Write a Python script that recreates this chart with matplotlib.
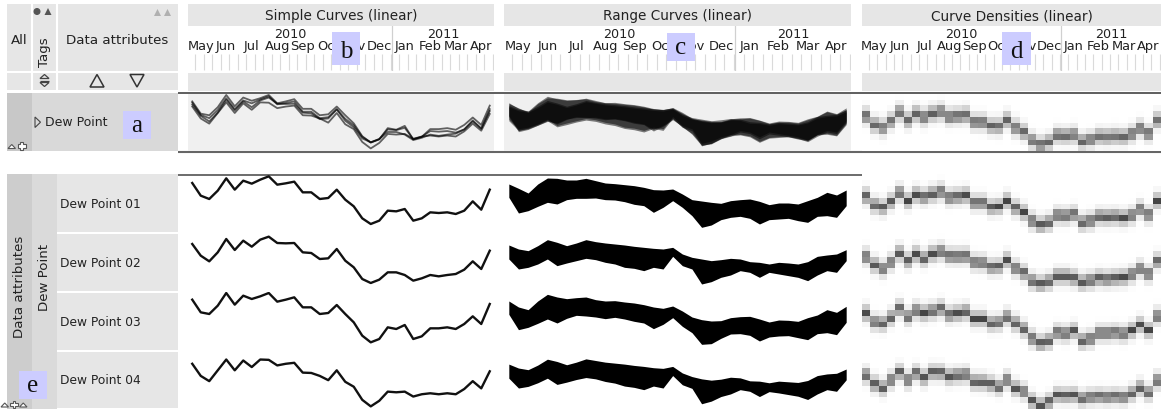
import numpy as np
import matplotlib
matplotlib.use("Agg")
import matplotlib.pyplot as plt
from matplotlib.patches import Rectangle, Polygon

# ---------------- data ----------------
months = ["May", "Jun", "Jul", "Aug", "Sep", "Oct", "Nov", "Dec",
          "Jan", "Feb", "Mar", "Apr"]
years = ["2010", "2011"]
months_per_year = [8, 4]
points_per_month = 3
panel_titles = ["Simple Curves (linear)", "Range Curves (linear)",
                "Curve Densities (linear)"]
header_cols = ["All", "Tags", "Data attributes"]
group_label = "Dew Point"
outer_label = "Data attributes"
series_labels = ["Dew Point 01", "Dew Point 02", "Dew Point 03", "Dew Point 04"]
annotations = ["a", "b", "c", "d", "e"]

# mean dew point per period (simple curves)
dp01_mean = [12.8, 9.0, 8.0, 10.5, 14.2, 10.8, 13.5, 12.6, 13.8, 14.8, 12.3, 12.7,
             13.2, 10.0, 10.0, 8.0, 8.3, 10.8, 7.8, 5.8, 2.2, 0.5, 1.5, 4.5,
             4.3, 5.0, 1.5, 2.2, 4.0, 3.8, 4.0, 3.5, 4.5, 7.3, 4.8, 10.8]
dp02_mean = [12.2, 8.7, 7.0, 9.7, 13.7, 10.4, 13.2, 11.4, 13.5, 14.4, 12.5, 12.4,
             12.5, 9.7, 9.5, 7.7, 7.9, 10.7, 7.2, 5.2, 1.7, 0.5, 1.5, 3.7,
             3.7, 2.9, 1.2, 1.9, 2.9, 2.5, 2.9, 3.2, 4.5, 7.0, 4.7, 10.2]
dp03_mean = [13.2, 9.4, 8.9, 11.4, 15.2, 11.7, 14.4, 13.4, 14.2, 15.2, 12.6, 13.2,
             13.9, 10.9, 10.9, 8.9, 9.2, 11.6, 8.9, 6.4, 2.4, 0.4, 1.4, 4.9,
             4.4, 5.6, 1.4, 2.2, 4.6, 4.6, 4.9, 4.4, 5.9, 8.2, 5.9, 11.9]
dp04_mean = [11.6, 7.9, 6.3, 9.6, 12.9, 9.6, 12.6, 10.6, 12.9, 12.8, 11.1, 11.6,
             11.9, 8.9, 8.8, 7.9, 6.6, 9.6, 6.1, 4.6, 0.6, -1.4, 0.3, 3.1,
             2.9, 3.1, 1.6, 2.3, 2.6, 2.3, 2.6, 2.3, 3.9, 6.3, 4.1, 9.3]

# min / max per period (range curves)
dp01_high = [12.5, 11.2, 9.8, 12.5, 14.3, 14.2, 13.7, 13.7, 14.2, 13.5, 12.8, 12.6,
             12.3, 12.0, 11.5, 10.8, 10.7, 11.0, 9.5, 7.8, 7.4, 7.0, 6.7, 7.5,
             7.8, 8.0, 7.3, 6.3, 6.8, 6.8, 6.5, 7.5, 8.5, 10.0, 9.2, 10.7]
dp01_low = [8.5, 3.8, 4.5, 5.8, 7.0, 6.5, 7.8, 8.2, 8.2, 8.3, 7.8, 7.7,
            7.2, 6.4, 6.0, 4.0, 5.5, 7.5, 5.5, 3.0, -0.5, 0.2, 1.8, 2.5,
            2.8, 2.2, 0.5, 1.8, 2.0, 2.2, 1.5, 1.0, 2.8, 3.0, 2.5, 6.0]
dp02_high = [11.9, 10.7, 10.2, 11.7, 13.5, 12.7, 11.7, 12.5, 13.5, 12.9, 12.5, 12.2,
             11.9, 11.5, 11.2, 10.9, 10.7, 11.2, 9.2, 8.2, 7.7, 7.2, 7.5, 7.9,
             7.7, 6.9, 6.7, 6.2, 6.7, 6.5, 6.2, 6.9, 8.5, 8.9, 9.2, 10.5]
dp02_low = [7.7, 4.7, 5.2, 6.2, 7.7, 5.7, 6.5, 7.2, 7.9, 7.5, 6.7, 6.2,
            5.2, 4.9, 4.2, 5.2, 4.7, 8.5, 5.7, 4.7, 0.2, 0.9, 2.2, 2.9,
            4.2, 3.7, 2.2, 3.7, 3.2, 2.7, 2.2, 1.2, 2.9, 4.2, 3.7, 7.2]
dp03_high = [12.8, 11.0, 10.2, 12.8, 14.8, 14.0, 13.5, 13.8, 14.0, 13.2, 12.8, 12.9,
             12.5, 12.2, 11.7, 11.0, 10.6, 11.3, 9.8, 8.0, 7.2, 6.8, 6.9, 7.8,
             8.1, 8.2, 7.4, 6.5, 7.1, 7.0, 6.7, 7.8, 8.6, 10.2, 9.4, 11.2]
dp03_low = [8.8, 4.2, 4.9, 6.1, 7.4, 6.2, 7.6, 8.5, 8.3, 8.0, 7.5, 7.9,
            7.4, 6.7, 6.2, 4.5, 5.8, 7.8, 5.2, 3.3, -0.2, 0.0, 1.6, 2.9,
            3.0, 2.5, 0.8, 2.0, 2.3, 2.4, 1.8, 1.2, 3.0, 3.3, 2.7, 6.4]
dp04_high = [11.5, 10.3, 9.8, 11.2, 13.0, 12.3, 11.3, 12.1, 13.1, 12.6, 12.1, 11.8,
             11.5, 11.1, 10.8, 10.4, 10.2, 10.8, 8.8, 7.7, 7.0, 6.6, 6.9, 7.5,
             7.3, 6.4, 6.3, 5.8, 6.3, 6.1, 5.9, 6.5, 8.0, 8.5, 8.7, 10.0]
dp04_low = [7.2, 4.2, 4.7, 5.8, 7.2, 5.3, 6.0, 6.8, 7.4, 7.0, 6.2, 5.7,
            4.8, 4.4, 3.7, 4.8, 4.2, 8.0, 5.2, 4.1, -0.6, 0.2, 1.6, 2.4,
            3.7, 3.2, 1.6, 3.1, 2.7, 2.2, 1.7, 0.7, 2.4, 3.7, 3.2, 6.7]

means = [dp01_mean, dp02_mean, dp03_mean, dp04_mean]
highs = [dp01_high, dp02_high, dp03_high, dp04_high]
lows = [dp01_low, dp02_low, dp03_low, dp04_low]

# ---------------- layout ----------------
W, H = 1161, 410
fig = plt.figure(figsize=(W / 100, H / 100), dpi=100)
FONT = "DejaVu Sans"
plt.rcParams["font.family"] = FONT
TXT = "#222222"


def px_axes(x0, y0, x1, y1):
    a = fig.add_axes([x0 / W, 1 - y1 / H, (x1 - x0) / W, (y1 - y0) / H])
    for s in a.spines.values():
        s.set_visible(False)
    a.set_xticks([])
    a.set_yticks([])
    return a


ui = fig.add_axes([0, 0, 1, 1])
ui.set_xlim(0, W)
ui.set_ylim(H, 0)
ui.axis("off")


def rect(x0, y0, x1, y1, c):
    ui.add_patch(Rectangle((x0, y0), x1 - x0, y1 - y0, fc=c, ec="none"))


def tri(pts, fc="none", ec="#333333", lw=1.0):
    ui.add_patch(Polygon(pts, closed=True, fc=fc, ec=ec, lw=lw))


def cross(cx, cy, a=4, t=1.6, ec="#555555"):
    pts = [(cx - t, cy - a), (cx + t, cy - a), (cx + t, cy - t), (cx + a, cy - t),
           (cx + a, cy + t), (cx + t, cy + t), (cx + t, cy + a), (cx - t, cy + a),
           (cx - t, cy + t), (cx - a, cy + t), (cx - a, cy - t), (cx - t, cy - t)]
    ui.add_patch(Polygon(pts, closed=True, fc="white", ec=ec, lw=0.8))


# left header
rect(7, 5, 178, 72, "#e6e6e6")
rect(7, 74, 178, 91, "#e6e6e6")
ui.vlines([32, 57], 5, 91, color="white", lw=1.5)
ui.text(19.5, 40, header_cols[0], ha="center", va="center", fontsize=9.6, color=TXT)
ui.text(44.5, 52, header_cols[1], ha="center", va="center", fontsize=9.6,
        color=TXT, rotation=90)
ui.text(117, 40, header_cols[2], ha="center", va="center", fontsize=9.6, color=TXT)
ui.add_patch(plt.Circle((37, 12.5), 2.8, color="#555555"))
tri([(44.5, 16), (51.5, 16), (48, 9)], fc="#555555", ec="none")
tri([(154, 17), (161, 17), (157.5, 10)], fc="#b0b0b0", ec="none")
tri([(164, 17), (171, 17), (167.5, 10)], fc="#b0b0b0", ec="none")
# sort icons row
tri([(40, 79.5), (49, 79.5), (44.5, 75.5)], ec="#444444", lw=0.9)
ui.hlines(81.5, 40, 49, color="#444444", lw=0.9)
tri([(40, 83.5), (49, 83.5), (44.5, 87.5)], ec="#444444", lw=0.9)
tri([(90, 88), (104, 88), (97, 75.5)], ec="#333333", lw=1.1)
tri([(130, 75.5), (144, 75.5), (137, 88)], ec="#333333", lw=1.1)

# aggregate row (left)
rect(7, 94, 32, 152, "#c8c8c8")
rect(32, 94, 178, 152, "#d9d9d9")
tri([(35, 118), (35, 128.5), (40.5, 123.2)], ec="#444444", lw=0.8)
ui.text(45, 123, group_label, ha="left", va="center", fontsize=9, color=TXT)
tri([(8, 149.5), (15.5, 149.5), (11.75, 145.5)], fc="white", ec="#555555", lw=0.8)
cross(21.5, 147)

# bottom rows (left)
row_tops = [175, 234, 293, 352]
row_bots = [234, 293, 352, 410]
rect(7, 175, 32, 410, "#cdcdcd")
rect(32, 175, 57, 410, "#dadada")
for r in range(4):
    rect(57, row_tops[r] + (1 if r else 0), 178, row_bots[r] - 1, "#e6e6e6")
    ui.text(60, (row_tops[r] + row_bots[r]) / 2, series_labels[r], ha="left",
            va="center", fontsize=8.8, color=TXT)
ui.text(20, 287, outer_label, ha="center", va="center", fontsize=9.6,
        color=TXT, rotation=90)
ui.text(44.5, 277, group_label, ha="center", va="center", fontsize=9.6,
        color=TXT, rotation=90)
tri([(1, 408), (8.5, 408), (4.75, 404)], fc="white", ec="#555555", lw=0.8)
cross(14, 405.5, a=3.6, t=1.4)
tri([(19.5, 408), (27, 408), (23.25, 404)], fc="white", ec="#555555", lw=0.8)

# chart separator lines
ui.hlines(94, 178, W, color="#333333", lw=1.1)
ui.hlines(152.5, 178, W, color="#666666", lw=1.5)
ui.hlines(175.5, 178, W, color="#444444", lw=1.1)

panels = [(188, 494), (504, 851), (862, 1161)]
n = len(dp01_mean)
xi = np.arange(n)
XLIM = (-0.5, n - 0.5)


def header(x0, x1, title):
    rect(x0, 5, x1, 26.5, "#e6e6e6")
    ui.text((x0 + x1) / 2, 16, title, ha="center", va="center", fontsize=9.8,
            color=TXT)
    rect(x0, 74, x1, 92, "#e6e6e6")
    hx = px_axes(x0, 27, x1, 72)
    hx.set_facecolor("white")
    hx.set_xlim(*XLIM)
    hx.set_ylim(72, 27)
    hx.vlines(xi + 0.35, 55, 71, color="#dadada", lw=0.8)
    start = XLIM[0]
    for yname, nm in zip(years, months_per_year):
        end = start + nm * points_per_month
        hx.text((start + end) / 2, 34.5, yname, ha="center", va="center",
                fontsize=9.2, color=TXT)
        if end < XLIM[1]:
            hx.axvline(end, color="#d0d0d0", lw=0.9)
        start = end
    for m, name in enumerate(months):
        hx.text(XLIM[0] + (m + 0.5) * points_per_month, 46.5, name, ha="center",
                va="center", fontsize=9.4, color=TXT)


for (x0, x1), t in zip(panels, panel_titles):
    header(x0, x1, t)

YLIM = (-2.2, 15.5)
DLIM = (-2.9, 22.1)
edges = np.arange(DLIM[0], DLIM[1] + 0.01, 2.5)
centers = (edges[:-1] + edges[1:]) / 2
KERNEL = 7.0
VMAX = 1.25


def density(vals):
    v = np.asarray(vals)
    k = np.clip(1 - np.abs(centers[:, None] - v[None, :]) / KERNEL, 0, None)
    return k ** 2


def cell(x0, x1, y0, y1, ylim, bg="none"):
    a = px_axes(x0, y0, x1, y1)
    a.set_facecolor(bg)
    a.set_xlim(*XLIM)
    a.set_ylim(*ylim)
    return a


# aggregate row
a = cell(*panels[0], 95, 152, YLIM, "#f0f0f0")
for v in means:
    a.plot(xi, v, color="black", alpha=0.6, lw=1.3)
a = cell(*panels[1], 95, 152, YLIM, "#f0f0f0")
for lo, hi in zip(lows, highs):
    a.fill_between(xi, lo, hi, color="black", alpha=0.5, lw=0)
a = cell(*panels[2], 95, 152, DLIM, "#fcfcfc")
D = np.mean([density(v) for v in means], axis=0)
a.imshow(D, cmap="Greys", vmin=0, vmax=VMAX, origin="lower", aspect="auto",
         interpolation="nearest", extent=(XLIM[0], XLIM[1], edges[0], edges[-1]))
a.set_ylim(*DLIM)

# individual rows
for r in range(4):
    y0, y1 = row_tops[r], row_bots[r]
    a = cell(*panels[0], y0, y1, YLIM)
    a.plot(xi, means[r], color="#111111", lw=1.7)
    a = cell(*panels[1], y0, y1, YLIM)
    a.fill_between(xi, lows[r], highs[r], color="black", lw=0)
    a = cell(*panels[2], y0, y1, DLIM)
    a.imshow(density(means[r]), cmap="Greys", vmin=0, vmax=VMAX, origin="lower",
             aspect="auto", interpolation="nearest",
             extent=(XLIM[0], XLIM[1], edges[0], edges[-1]))
    a.set_ylim(*DLIM)

# annotation boxes on top
ov = fig.add_axes([0, 0, 1, 1])
ov.set_xlim(0, W)
ov.set_ylim(H, 0)
ov.axis("off")
boxes = [(123, 112, 151, 140), (332, 33, 360, 66), (667, 34, 695, 62),
         (1002, 33, 1031, 66), (19, 372, 47, 400)]
for lab, (x0, y0, x1, y1) in zip(annotations, boxes):
    ov.add_patch(Rectangle((x0, y0), x1 - x0, y1 - y0, fc="#ccccff", ec="none"))
    ov.text((x0 + x1) / 2, y1 - 7.5, lab, ha="center", va="baseline",
            fontsize=18, family="Liberation Serif", color="#111111")

fig.savefig("out.png", dpi=100)
